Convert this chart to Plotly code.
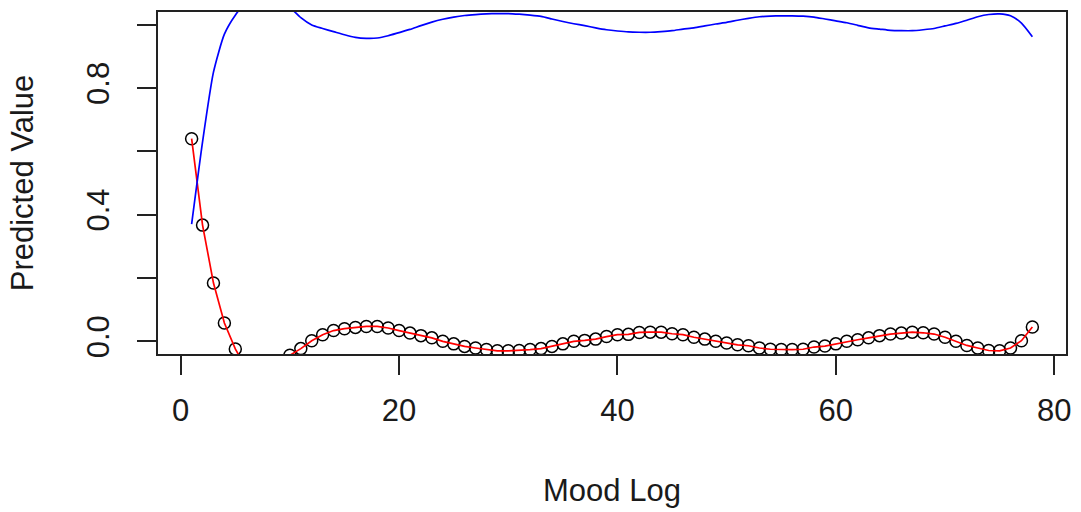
import plotly.graph_objects as go

mood_log = list(range(1, 79))

predicted = [
    0.64, 0.367, 0.184, 0.058, -0.024, -0.085, -0.115, -0.11, -0.08, -0.044,
    -0.023, 0.002, 0.021, 0.034, 0.040, 0.044, 0.047, 0.047, 0.042, 0.034,
    0.026, 0.018, 0.011, 0.0, -0.008, -0.016, -0.021, -0.026, -0.030, -0.030,
    -0.029, -0.026, -0.023, -0.016, -0.008, 0.0, 0.003, 0.007, 0.015, 0.021,
    0.022, 0.028, 0.029, 0.029, 0.024, 0.021, 0.013, 0.007, 0.0, -0.005,
    -0.011, -0.014, -0.021, -0.025, -0.026, -0.026, -0.025, -0.018, -0.015, -0.008,
    0.0, 0.005, 0.011, 0.018, 0.023, 0.026, 0.029, 0.027, 0.023, 0.013,
    0.0, -0.013, -0.021, -0.029, -0.030, -0.021, 0.002, 0.045,
]

upper = [
    0.37, 0.63, 0.85, 0.97, 1.03, 1.07, 1.09, 1.09, 1.08, 1.055,
    1.022, 0.999, 0.988, 0.978, 0.968, 0.960, 0.957, 0.958, 0.965, 0.975,
    0.985, 0.997, 1.008, 1.017, 1.024, 1.029, 1.032, 1.034, 1.035, 1.035,
    1.033, 1.030, 1.026, 1.018, 1.010, 1.003, 0.997, 0.990, 0.984, 0.980,
    0.977, 0.976, 0.976, 0.978, 0.981, 0.986, 0.990, 0.996, 1.002, 1.007,
    1.014, 1.020, 1.025, 1.027, 1.028, 1.028, 1.027, 1.024, 1.018, 1.012,
    1.006, 0.998, 0.990, 0.986, 0.982, 0.981, 0.981, 0.984, 0.988, 0.996,
    1.004, 1.014, 1.025, 1.032, 1.034, 1.028, 1.005, 0.962,
]

x_ticks = [0, 20, 40, 60, 80]
y_ticks = [0.0, 0.2, 0.4, 0.6, 0.8, 1.0]
y_tick_labels = ["0.0", "", "0.4", "", "0.8", ""]

FONT = "Liberation Sans, Arial, sans-serif"

fig = go.Figure()
fig.add_trace(go.Scatter(
    x=mood_log, y=predicted, mode="markers",
    marker=dict(symbol="circle-open", size=12, color="black", line=dict(width=1.5, color="black")),
    showlegend=False,
))
fig.add_trace(go.Scatter(
    x=mood_log, y=predicted, mode="lines",
    line=dict(color="#ff0000", width=1.7),
    showlegend=False,
))
fig.add_trace(go.Scatter(
    x=mood_log, y=upper, mode="lines",
    line=dict(color="#0000ff", width=1.7, shape="spline", smoothing=0.6),
    showlegend=False,
))

fig.update_layout(
    width=1081, height=512,
    margin=dict(l=158, r=10, t=10, b=158),
    paper_bgcolor="white", plot_bgcolor="white",
    font=dict(family=FONT, size=31, color="#1a1a1a"),
    xaxis=dict(
        range=[-2.08, 81.08], showgrid=False, zeroline=False,
        showline=True, mirror=True, linecolor="#222222", linewidth=1.6,
        tickmode="array", tickvals=x_ticks, ticktext=[str(v) for v in x_ticks],
        ticks="outside", ticklen=19, tickwidth=1.6, tickcolor="#222222",
        ticklabelstandoff=9,
        title=dict(text="Mood Log", standoff=52, font=dict(size=31)),
    ),
    yaxis=dict(
        range=[-0.04, 1.04], showgrid=False, zeroline=False,
        showline=True, mirror=True, linecolor="#222222", linewidth=1.6,
        tickmode="array", tickvals=y_ticks, ticktext=y_tick_labels,
        ticks="outside", ticklen=19, tickwidth=1.6, tickcolor="#222222",
        tickangle=-90, ticklabelstandoff=16,
        title=dict(text="Predicted Value", standoff=38, font=dict(size=31)),
    ),
)

fig.write_html("out.html")
